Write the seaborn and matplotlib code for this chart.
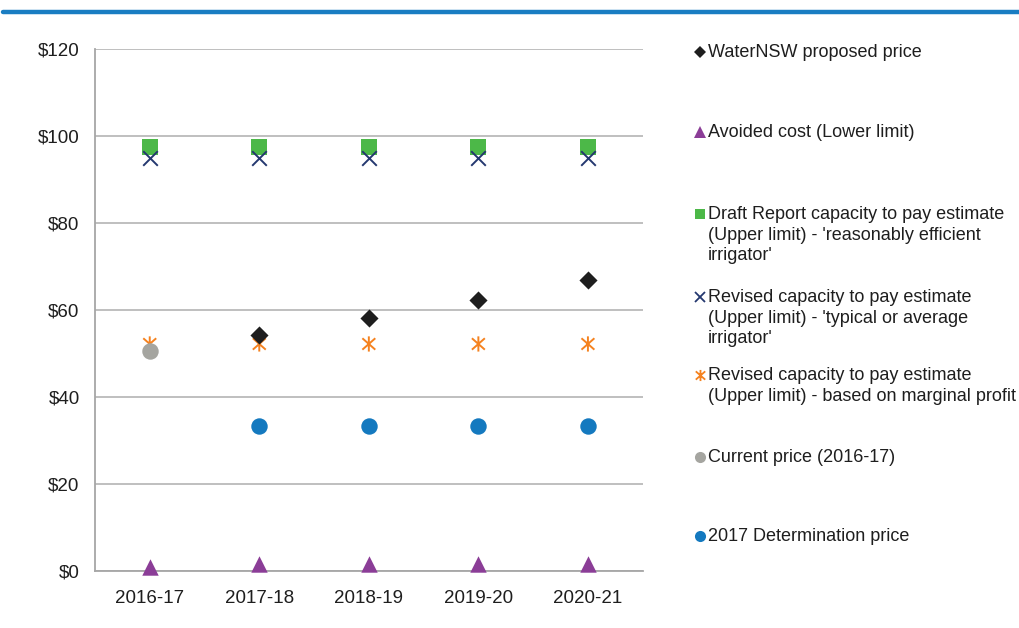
import numpy as np
import pandas as pd
import matplotlib
matplotlib.use("Agg")
import matplotlib.pyplot as plt
from matplotlib.lines import Line2D
from matplotlib.path import Path
import seaborn as sns

years = ["2016-17", "2017-18", "2018-19", "2019-20", "2020-21"]

waternsw_price = [np.nan, 54.2, 58.2, 62.4, 66.9]
avoided_cost = [1.0, 1.5, 1.5, 1.5, 1.5]
draft_ctp = [97.6, 97.6, 97.6, 97.6, 97.6]
revised_ctp_typical = [95.0, 95.0, 95.0, 95.0, 95.0]
revised_ctp_marginal = [52.2, 52.2, 52.2, 52.2, 52.2]
current_price = [50.5, np.nan, np.nan, np.nan, np.nan]
determination_2017 = [np.nan, 33.4, 33.4, 33.4, 33.4]

labels = [
    "WaterNSW proposed price",
    "Avoided cost (Lower limit)",
    "Draft Report capacity to pay estimate\n(Upper limit) - 'reasonably efficient\nirrigator'",
    "Revised capacity to pay estimate\n(Upper limit) - 'typical or average\nirrigator'",
    "Revised capacity to pay estimate\n(Upper limit) - based on marginal profit",
    "Current price (2016-17)",
    "2017 Determination price",
]

# Excel style asterisk: vertical bar plus an X
star = Path([(0, -1), (0, 1), (-0.85, -0.75), (0.85, 0.75), (-0.85, 0.75), (0.85, -0.75)],
            [Path.MOVETO, Path.LINETO, Path.MOVETO, Path.LINETO, Path.MOVETO, Path.LINETO])

series = [
    # values, marker, colour, size (pt^2), zorder, legend markersize, kind
    (waternsw_price, "D", "#1e1e1e", 85, 5, 6, "fill"),
    (avoided_cost, "^", "#8b3d97", 140, 4, 8, "fill"),
    (draft_ctp, "s", "#4cb848", 135, 3, 7.5, "fill"),
    (revised_ctp_typical, "x", "#24386f", 110, 4, 7, "line"),
    (revised_ctp_marginal, star, "#f5821f", 120, 3, 8, "path"),
    (current_price, "o", "#a5a5a0", 140, 5, 8, "fill"),
    (determination_2017, "o", "#1479bf", 140, 5, 8, "fill"),
]

sns.set_style("white")
plt.rcParams["font.family"] = ["Liberation Sans", "DejaVu Sans"]
plt.rcParams["font.size"] = 13

fig = plt.figure(figsize=(10.2, 6.28), dpi=100)
ax = fig.add_axes([0.0931, 0.0908, 0.537, 0.831])
# register every year on the categorical axis first so all series share positions
ax.xaxis.update_units(np.array(years))

for vals, mk, col, sz, zo, _, kind in series:
    df = pd.DataFrame({"year": years, "value": vals})
    if kind == "fill":
        sns.scatterplot(data=df, x="year", y="value", marker=mk, color=col, s=sz,
                        linewidth=0, zorder=zo, clip_on=False, ax=ax)
    elif kind == "line":
        sns.scatterplot(data=df, x="year", y="value", marker=mk, color=col, s=sz,
                        linewidth=1.4, zorder=zo, clip_on=False, ax=ax)
    else:
        sns.scatterplot(data=df, x="year", y="value", marker=mk, color=col, s=sz,
                        edgecolor=col, facecolor="none", linewidth=1.4, zorder=zo,
                        clip_on=False, ax=ax)

ax.set_xlim(-0.5, 4.5)
ax.set_ylim(0, 120)
ax.set_xticks(range(5))
ax.set_xticklabels(years)
ax.set_xticks(np.arange(-0.5, 5, 1), minor=True)
ax.set_yticks(range(0, 121, 20))
ax.set_yticklabels(["$%d" % v for v in range(0, 121, 20)])
ax.set_xlabel("")
ax.set_ylabel("")
ax.yaxis.grid(True, color="#bababa", linewidth=1.3)
ax.set_axisbelow(True)
for sp in ["top", "right"]:
    ax.spines[sp].set_visible(False)
for sp in ["left", "bottom"]:
    ax.spines[sp].set_color("#a6a6a6")
    ax.spines[sp].set_linewidth(1.3)
ax.tick_params(axis="x", which="major", length=0, pad=14, labelsize=13.5, labelcolor="#1e1e1e")
ax.tick_params(axis="x", which="minor", length=4.5, width=1.3, color="#a6a6a6", direction="out")
ax.tick_params(axis="y", length=4.5, width=1.3, color="#a6a6a6", direction="out", pad=6.5,
               labelsize=13.5, labelcolor="#1e1e1e")

# legend placed like the Excel original: marker beside the first line of each entry
entry_y = [52, 132, 214, 297, 375, 457, 536]
for (vals, mk, col, sz, zo, lms, kind), lab, py in zip(series, labels, entry_y):
    fig.add_artist(Line2D([700 / 1020], [1 - py / 628], marker=mk, color=col, markersize=lms,
                          markeredgewidth=0 if kind == "fill" else 1.3, linestyle="none",
                          markerfacecolor=col if kind != "path" else "none",
                          transform=fig.transFigure))
    fig.text(708 / 1020, 1 - (py - 8) / 628, lab, ha="left", va="top", fontsize=13,
             color="#1e1e1e", linespacing=1.27, transform=fig.transFigure)

# blue rule along the top of the page
fig.add_artist(Line2D([0.003, 1.0], [1 - 11.5 / 628] * 2, color="#1a7dc2", linewidth=3.2,
                      transform=fig.transFigure))

fig.savefig("out.png", dpi=100)
